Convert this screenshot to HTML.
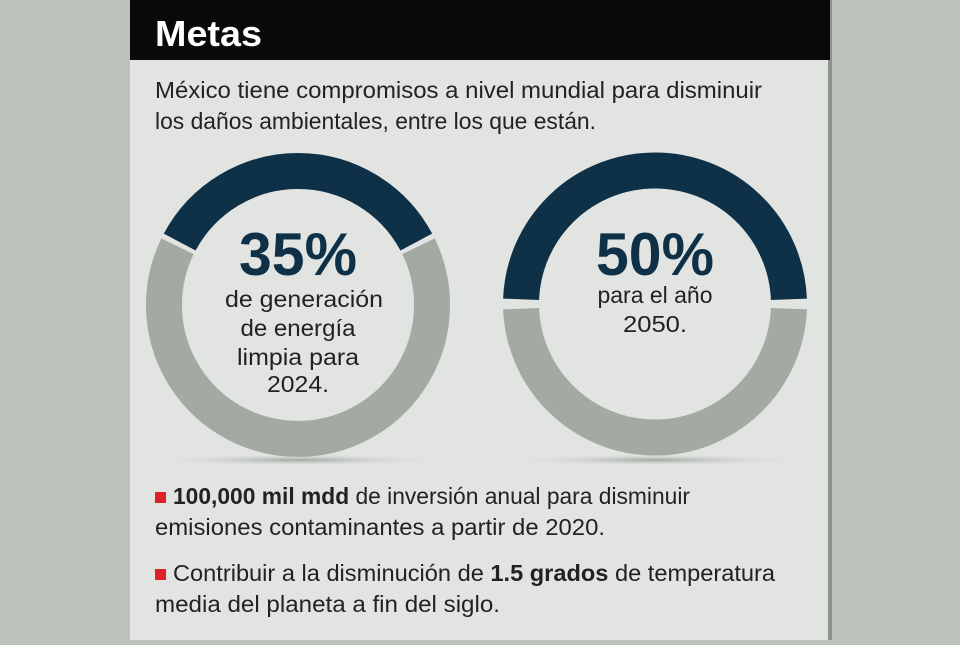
<!DOCTYPE html>
<html><head><meta charset="utf-8"><style>
body{margin:0;width:960px;height:640px;overflow:hidden;background:#bcc1bc;font-family:"Liberation Sans",sans-serif;}
</style></head><body>
<svg width="960" height="640" viewBox="0 0 960 640" xmlns="http://www.w3.org/2000/svg">
<defs><radialGradient id="sh" cx="0.5" cy="0.5" r="0.5"><stop offset="0" stop-color="#9aa09a" stop-opacity="0.9"/><stop offset="1" stop-color="#e2e4e1" stop-opacity="0"/></radialGradient></defs>
<rect x="0" y="0" width="960" height="640" fill="#bcc1bc"/>
<rect x="130" y="0" width="700" height="640" fill="#e2e4e1"/>
<rect x="828" y="0" width="4" height="640" fill="#8e938e"/>
<rect x="130" y="0" width="700" height="60" fill="#0a0a0a"/>
<text x="155" y="46" font-size="36" font-weight="bold" fill="#fff" textLength="107" lengthAdjust="spacingAndGlyphs">Metas</text>
<text x="155" y="98" font-size="23" fill="#222" textLength="607" lengthAdjust="spacingAndGlyphs">México tiene compromisos a nivel mundial para disminuir</text>
<text x="155" y="129" font-size="23" fill="#222" textLength="441" lengthAdjust="spacingAndGlyphs">los daños ambientales, entre los que están.</text>
<ellipse cx="298" cy="460" rx="150" ry="6" fill="url(#sh)"/>
<ellipse cx="655" cy="460" rx="150" ry="6" fill="url(#sh)"/>
<g fill="none" stroke-width="36">
<path d="M179.7 242.1 A134 134 0 0 1 416.3 242.1" stroke="#0e3148"/>
<path d="M418.5 246.3 A134 134 0 1 1 177.5 246.3" stroke="#a3aaa3"/>
<path d="M521.1 299.3 A134 134 0 0 1 788.9 299.3" stroke="#0e3148"/>
<path d="M788.9 308.7 A134 134 0 0 1 521.1 308.7" stroke="#a3aaa3"/>
</g>
<g text-anchor="middle" lengthAdjust="spacingAndGlyphs">
<text x="298" y="275" font-size="60" font-weight="bold" fill="#0e3148" textLength="118" lengthAdjust="spacingAndGlyphs">35%</text>
<text x="304" y="307" font-size="23" fill="#222" textLength="158" lengthAdjust="spacingAndGlyphs">de generación</text>
<text x="298" y="336" font-size="23" fill="#222" textLength="115" lengthAdjust="spacingAndGlyphs">de energía</text>
<text x="298" y="365" font-size="23" fill="#222" textLength="122" lengthAdjust="spacingAndGlyphs">limpia para</text>
<text x="298" y="392" font-size="23" fill="#222" textLength="62" lengthAdjust="spacingAndGlyphs">2024.</text>
<text x="655" y="275" font-size="60" font-weight="bold" fill="#0e3148" textLength="118" lengthAdjust="spacingAndGlyphs">50%</text>
<text x="655" y="303" font-size="23" fill="#222" textLength="115" lengthAdjust="spacingAndGlyphs">para el año</text>
<text x="655" y="332" font-size="23" fill="#222" textLength="64" lengthAdjust="spacingAndGlyphs">2050.</text>
</g>
<rect x="155" y="492" width="11" height="11" fill="#e0202a"/>
<text x="173" y="504" font-size="23" fill="#222" textLength="517" lengthAdjust="spacingAndGlyphs"><tspan font-weight="bold">100,000 mil mdd</tspan> de inversión anual para disminuir</text>
<text x="155" y="535" font-size="23" fill="#222" textLength="450" lengthAdjust="spacingAndGlyphs">emisiones contaminantes a partir de 2020.</text>
<rect x="155" y="569" width="11" height="11" fill="#e0202a"/>
<text x="173" y="581" font-size="23" fill="#222" textLength="602" lengthAdjust="spacingAndGlyphs">Contribuir a la disminución de <tspan font-weight="bold">1.5 grados</tspan> de temperatura</text>
<text x="155" y="612" font-size="23" fill="#222" textLength="345" lengthAdjust="spacingAndGlyphs">media del planeta a fin del siglo.</text>
</svg>
</body></html>
